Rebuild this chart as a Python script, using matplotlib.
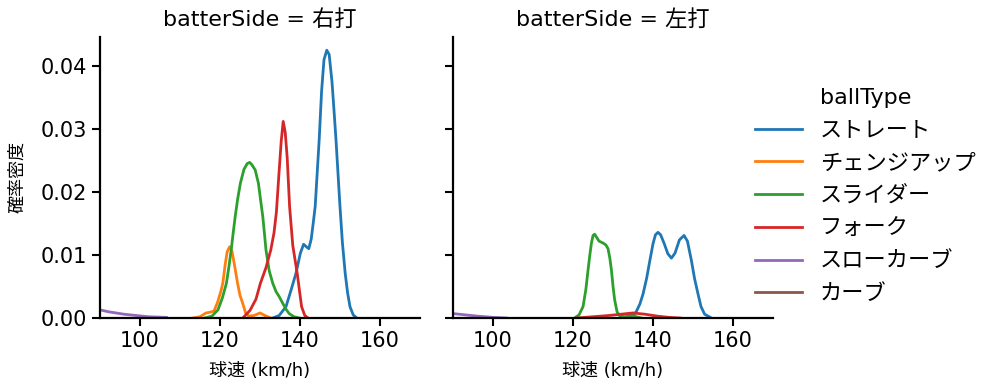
import matplotlib
matplotlib.use('Agg')
import matplotlib.pyplot as plt
from matplotlib.lines import Line2D

plt.rcParams['font.family'] = ['DejaVu Sans', 'Noto Sans CJK JP']

# pitch types and colours (seaborn default palette order)
ball_types = ['ストレート', 'チェンジアップ', 'スライダー', 'フォーク', 'スローカーブ', 'カーブ']
colors = ['#1f77b4', '#ff7f0e', '#2ca02c', '#d62728', '#9467bd', '#8c564b']
sides = ['右打', '左打']

# density curves, (speed km/h, density)
# right-handed batters
r_straight_x = [133.2, 134.8, 136.5, 137.8, 139.0, 140.1, 140.9, 141.6, 142.2, 142.8, 143.3, 143.8, 144.3,
                144.8, 145.4, 146.0, 146.7, 147.3, 148.0, 148.5, 149.0, 149.5, 150.0, 150.6, 151.3, 151.9,
                152.5, 153.3, 154.2]
r_straight_y = [0.0, 0.0004, 0.0018, 0.0045, 0.0071, 0.0103, 0.0117, 0.0113, 0.0110, 0.0125, 0.0150, 0.0177,
                0.0230, 0.0283, 0.0360, 0.0410, 0.0425, 0.0418, 0.0375, 0.0330, 0.0283, 0.0230, 0.0177, 0.0120,
                0.0071, 0.0040, 0.0018, 0.0005, 0.0]
r_change_x = [113.2, 115.0, 116.5, 117.4, 118.5, 119.4, 120.2, 120.7, 121.3, 121.8, 122.4, 123.0, 123.6,
              124.4, 125.0, 125.7, 126.4, 127.2, 128.5, 130.0, 131.2, 132.7]
r_change_y = [0.0, 0.0002, 0.0008, 0.0009, 0.0011, 0.0025, 0.0042, 0.0055, 0.0085, 0.0105, 0.0113, 0.0106,
              0.0085, 0.0055, 0.0036, 0.0023, 0.0008, 0.0003, 0.0004, 0.0008, 0.0004, 0.0]
r_slider_x = [116.2, 118.0, 119.5, 120.6, 121.6, 122.2, 122.8, 123.3, 123.8, 124.4, 125.1, 126.0, 126.8,
              127.4, 128.0, 128.8, 129.6, 130.2, 130.7, 131.1, 131.5, 132.3, 133.2, 134.0, 134.8, 135.8,
              136.6, 137.3, 138.5, 139.8]
r_slider_y = [0.0, 0.0003, 0.0013, 0.0032, 0.0055, 0.0080, 0.0108, 0.0135, 0.0161, 0.0188, 0.0214, 0.0236,
              0.0245, 0.0247, 0.0243, 0.0235, 0.0214, 0.0185, 0.0161, 0.0135, 0.0108, 0.0075, 0.0055, 0.0042,
              0.0034, 0.0022, 0.0013, 0.0007, 0.0002, 0.0]
r_fork_x = [125.7, 127.5, 129.0, 130.1, 131.5, 132.7, 133.5, 134.1, 134.7, 135.3, 135.8, 136.3, 136.8,
            137.4, 138.2, 139.3, 140.4, 141.2, 142.0]
r_fork_y = [0.0, 0.0012, 0.0030, 0.0055, 0.0080, 0.0108, 0.0135, 0.0168, 0.0225, 0.0280, 0.0312, 0.0295,
            0.0255, 0.0177, 0.0115, 0.0071, 0.0018, 0.0004, 0.0]
r_slowcurve_x = [88.0, 90.0, 92.0, 94.0, 96.0, 99.0, 102.0, 106.6]
r_slowcurve_y = [0.0015, 0.0013, 0.0010, 0.0008, 0.0006, 0.0004, 0.0002, 0.0001]

# left-handed batters
l_straight_x = [133.75, 135.0, 135.8, 136.7, 137.5, 138.4, 139.2, 140.0, 140.6, 141.25, 141.9, 142.8, 143.7,
                144.6, 145.5, 146.6, 147.75, 148.6, 149.6, 150.4, 151.25, 152.0, 152.9, 154.6]
l_straight_y = [0.0, 0.0004, 0.0010, 0.0022, 0.0038, 0.0063, 0.0091, 0.0118, 0.0132, 0.0136, 0.0132, 0.0118,
                0.0102, 0.0095, 0.0103, 0.0124, 0.0131, 0.0122, 0.0091, 0.0062, 0.0038, 0.0018, 0.0006, 0.0]
l_slider_x = [120.4, 121.5, 122.5, 123.2, 123.75, 124.2, 124.6, 125.0, 125.4, 125.9, 126.5, 127.5, 128.2,
              128.75, 129.2, 129.6, 130.0, 130.4, 131.0, 131.7, 133.0, 134.5, 135.8, 137.1]
l_slider_y = [0.0, 0.0005, 0.0018, 0.0045, 0.0076, 0.0100, 0.0119, 0.0131, 0.0133, 0.0128, 0.0122, 0.0119,
              0.0116, 0.0110, 0.0095, 0.0076, 0.0050, 0.0029, 0.0010, 0.0003, 0.0002, 0.0005, 0.0002, 0.0]
l_fork_x = [120.9, 125.0, 129.0, 132.0, 135.0, 138.0, 141.0, 144.0, 146.7]
l_fork_y = [0.0, 0.0002, 0.0004, 0.0006, 0.0008, 0.0006, 0.0003, 0.0001, 0.0]
l_slowcurve_x = [88.0, 90.0, 93.0, 96.0, 100.0, 103.3]
l_slowcurve_y = [0.0008, 0.0007, 0.0005, 0.0003, 0.0001, 0.0]

curves = {
    '右打': [('ストレート', r_straight_x, r_straight_y),
           ('チェンジアップ', r_change_x, r_change_y),
           ('スライダー', r_slider_x, r_slider_y),
           ('フォーク', r_fork_x, r_fork_y),
           ('スローカーブ', r_slowcurve_x, r_slowcurve_y)],
    '左打': [('ストレート', l_straight_x, l_straight_y),
           ('スライダー', l_slider_x, l_slider_y),
           ('フォーク', l_fork_x, l_fork_y),
           ('スローカーブ', l_slowcurve_x, l_slowcurve_y)],
}

x_ticks = [100, 120, 140, 160]
y_ticks = [0.00, 0.01, 0.02, 0.03, 0.04]

fig = plt.figure(figsize=(9.99, 3.91), dpi=100)
ax_l = fig.add_axes([0.1001, 0.1867, 0.3203, 0.7187])
ax_r = fig.add_axes([0.4535, 0.1867, 0.3203, 0.7187], sharey=ax_l)

for ax, side in zip([ax_l, ax_r], sides):
    for name, xs, ys in curves[side]:
        ax.plot(xs, ys, color=colors[ball_types.index(name)], lw=2.0)
    ax.set_xlim(90, 170)
    ax.set_ylim(0, 0.0446)
    ax.set_xticks(x_ticks)
    ax.set_yticks(y_ticks)
    ax.set_title(f'batterSide = {side}', fontsize=16, pad=8)
    ax.set_xlabel('球速 (km/h)', fontsize=13, labelpad=8)
    ax.tick_params(labelsize=15, length=6, width=1.5)
    for s in ['top', 'right']:
        ax.spines[s].set_visible(False)
    for s in ['left', 'bottom']:
        ax.spines[s].set_linewidth(1.6)

ax_l.set_yticklabels([f'{v:.2f}' for v in y_ticks])
ax_l.set_ylabel('確率密度', fontsize=13, labelpad=10)
ax_r.tick_params(labelleft=False)

handles = [Line2D([], [], color=c, lw=2.0) for c in colors]
leg = fig.legend(handles, ball_types, title='ballType', loc='center left',
                 bbox_to_anchor=(0.756, 0.499), frameon=False, fontsize=16, title_fontsize=16,
                 handlelength=2.1, handletextpad=0.8, labelspacing=0.57, borderpad=0, borderaxespad=0)

fig.savefig('out.png', dpi=100)
